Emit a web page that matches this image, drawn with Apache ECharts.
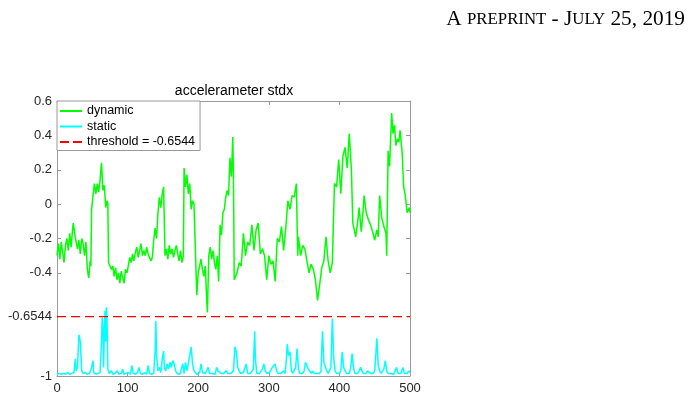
<!DOCTYPE html>
<html>
<head>
<meta charset="utf-8">
<script src="https://cdn.jsdelivr.net/npm/echarts@6/dist/echarts.min.js"></script>
<style>html,body{margin:0;padding:0;background:#fff}#c{width:696px;height:400px}</style>
</head>
<body>
<div id="c"></div>
<script>
const chartTitle = 'accelerameter stdx';
const legendNames = ['dynamic', 'static', 'threshold = -0.6544'];
const threshold = -0.6544;
const xTicks = [0, 100, 200, 300, 400, 500];
const yTicks = [-1, -0.6544, -0.4, -0.2, 0, 0.2, 0.4, 0.6];

const dynX = [0,2,4,6,8,10,12,14,16,18,20,22,23,25,27,29,31,33,35,37,39,41,43,45,47,48,49,51,53,55,57,59,61,63,65,67,69,71,72,73,75,77,79,81,83,85,87,89,91,93,95,97,99,101,103,105,107,109,111,113,115,117,119,121,123,125,127,129,131,133,135,137,139,141,143,145,147,149,151,153,155,157,159,161,163,165,167,169,171,173,175,177,179,180,182,184,186,188,190,192,194,196,198,200,202,204,206,208,210,212,213,215,217,219,221,223,225,227,229,231,233,235,237,239,241,243,245,247,249,250,251,253,255,258,261,264,267,270,273,276,279,282,285,288,291,294,297,300,303,306,309,312,315,318,321,324,327,330,333,336,339,341,342,345,348,351,354,357,360,363,366,369,372,375,378,381,384,387,390,393,396,399,402,405,408,411,414,417,419,420,423,426,428,431,433,435,438,441,444,447,450,453,455,457,460,463,466,467,469,471,474,476,478,480,482,484,486,489,491,493,496,499,500];
const dynY = [-0.30,-0.23,-0.32,-0.22,-0.28,-0.34,-0.24,-0.20,-0.27,-0.17,-0.25,-0.15,-0.11,-0.17,-0.22,-0.26,-0.21,-0.29,-0.20,-0.23,-0.30,-0.22,-0.38,-0.43,-0.33,-0.36,-0.03,0.05,0.12,0.06,0.12,0.07,0.14,0.24,0.08,0.11,-0.02,0.02,0.00,-0.34,-0.35,-0.38,-0.36,-0.42,-0.37,-0.44,-0.40,-0.46,-0.39,-0.43,-0.46,-0.38,-0.40,-0.36,-0.31,-0.34,-0.29,-0.33,-0.28,-0.25,-0.31,-0.27,-0.23,-0.30,-0.27,-0.30,-0.25,-0.29,-0.28,-0.33,-0.31,-0.21,-0.14,-0.20,-0.05,0.04,-0.02,0.06,0.10,-0.30,-0.26,-0.32,-0.24,-0.29,-0.26,-0.31,-0.27,-0.24,-0.29,-0.33,-0.27,-0.34,-0.30,0.21,0.10,0.17,0.06,0.12,-0.03,0.02,0.00,0.01,-0.53,-0.40,-0.36,-0.32,-0.38,-0.42,-0.36,-0.55,-0.63,-0.30,-0.25,-0.32,-0.27,-0.34,-0.38,-0.30,-0.45,-0.12,-0.18,-0.05,-0.03,0.04,0.08,0.05,0.27,0.16,0.39,0.13,-0.44,-0.45,-0.40,-0.34,-0.36,-0.17,-0.30,-0.22,-0.24,-0.12,-0.27,-0.15,-0.11,-0.29,-0.26,-0.30,-0.44,-0.30,-0.35,-0.33,-0.45,-0.20,-0.22,-0.13,-0.27,-0.14,0.02,-0.03,0.05,0.04,0.12,-0.30,-0.19,-0.30,-0.24,-0.26,-0.33,-0.40,-0.35,-0.38,-0.44,-0.56,-0.47,-0.37,-0.33,-0.19,-0.33,-0.40,-0.34,0.12,0.10,0.26,0.06,0.28,0.33,0.21,0.41,0.20,-0.11,-0.13,-0.19,-0.10,-0.02,-0.16,-0.07,0.05,-0.05,-0.09,-0.12,-0.16,-0.21,-0.15,-0.19,0.05,-0.08,-0.13,-0.17,-0.30,0.31,0.22,0.53,0.41,0.46,0.34,0.38,0.36,0.43,0.29,0.10,0.06,-0.05,-0.02,-0.05];

const staX = [0,3,6,9,12,15,18,21,24,26,27,29,31,33,35,37,40,43,46,49,51,52,55,58,61,63,64,65,66,67,68,69,70,71,72,74,77,79,82,85,88,91,93,95,98,101,104,106,108,111,114,116,118,121,124,127,129,131,134,137,139,140,141,143,145,147,149,151,152,154,156,158,160,162,164,166,168,170,172,174,176,178,180,182,184,186,188,190,192,194,196,198,200,202,204,206,208,210,212,214,216,218,220,222,224,226,228,230,232,234,236,238,240,242,244,246,248,250,252,254,256,258,260,262,264,266,268,270,272,274,276,278,280,281,283,285,287,289,291,293,295,297,299,301,303,305,307,309,311,313,315,317,319,321,323,325,326,328,330,332,334,336,338,340,342,344,346,348,350,352,354,356,358,360,362,364,366,368,370,372,374,376,378,380,382,384,386,388,390,392,394,396,398,400,402,404,406,408,410,412,414,416,418,420,422,424,426,428,430,432,434,436,438,440,442,444,446,448,450,452,453,455,457,459,461,463,465,467,469,471,473,475,477,479,481,483,485,487,489,490,492,494,496,498,500];
const staY = [-0.99,-0.985,-0.99,-0.985,-0.99,-0.98,-0.99,-0.985,-0.98,-0.90,-0.97,-0.95,-0.76,-0.80,-0.97,-0.985,-0.98,-0.99,-0.985,-0.95,-0.91,-0.98,-0.99,-0.985,-0.98,-0.80,-0.66,-0.72,-0.95,-0.75,-0.62,-0.80,-0.60,-0.70,-0.96,-0.985,-0.97,-0.99,-0.985,-0.97,-0.99,-0.985,-0.96,-0.99,-0.985,-0.98,-0.99,-0.94,-0.985,-0.99,-0.98,-0.95,-0.985,-0.99,-0.98,-0.99,-0.94,-0.985,-0.99,-0.985,-0.85,-0.68,-0.88,-0.97,-0.95,-0.98,-0.90,-0.855,-0.95,-0.97,-0.93,-0.96,-0.92,-0.95,-0.91,-0.93,-0.97,-0.985,-0.98,-0.99,-0.985,-0.93,-0.985,-0.92,-0.97,-0.96,-0.88,-0.83,-0.93,-0.97,-0.98,-0.99,-0.985,-0.98,-0.93,-0.98,-0.99,-0.985,-0.97,-0.95,-0.985,-0.99,-0.985,-0.98,-0.99,-0.95,-0.97,-0.96,-0.985,-0.99,-0.985,-0.98,-0.97,-0.985,-0.99,-0.985,-0.98,-0.97,-0.83,-0.86,-0.95,-0.97,-0.985,-0.99,-0.98,-0.985,-0.93,-0.985,-0.99,-0.985,-0.98,-0.96,-0.74,-0.90,-0.985,-0.99,-0.985,-0.98,-0.96,-0.93,-0.97,-0.985,-0.99,-0.98,-0.97,-0.95,-0.96,-0.93,-0.97,-0.985,-0.99,-0.985,-0.98,-0.97,-0.985,-0.90,-0.815,-0.88,-0.86,-0.97,-0.985,-0.99,-0.95,-0.84,-0.96,-0.985,-0.99,-0.985,-0.97,-0.92,-0.93,-0.96,-0.95,-0.985,-0.97,-0.985,-0.98,-0.985,-0.99,-0.985,-0.97,-0.74,-0.92,-0.93,-0.97,-0.985,-0.99,-0.95,-0.665,-0.90,-0.97,-0.985,-0.99,-0.985,-0.97,-0.86,-0.95,-0.97,-0.985,-0.99,-0.985,-0.95,-0.87,-0.95,-0.985,-0.99,-0.985,-0.97,-0.95,-0.97,-0.985,-0.99,-0.985,-0.97,-0.96,-0.985,-0.99,-0.985,-0.97,-0.85,-0.78,-0.94,-0.97,-0.985,-0.99,-0.96,-0.91,-0.97,-0.985,-0.99,-0.985,-0.98,-0.99,-0.97,-0.95,-0.985,-0.99,-0.985,-0.98,-0.95,-0.985,-0.99,-0.985,-0.97,-0.98];

const zip = (xs, ys) => xs.map((x, i) => [x, ys[i]]);
const axisGray = '#999999';
const labelColor = '#262626';
const fontFam = '"Liberation Sans", Arial, Helvetica, sans-serif';
const serifFam = '"Liberation Serif", "Times New Roman", serif';

const chart = echarts.init(document.getElementById('c'), null, {renderer: 'canvas'});
chart.setOption({
  animation: false,
  backgroundColor: '#fff',
  title: [{
    text: '{b|A }{s|PREPRINT}{b| - J}{s|ULY}{b| 25, 2019}',
    right: 6, top: 4,
    textStyle: {
      fontWeight: 'normal',
      rich: {
        b: {fontFamily: serifFam, fontSize: 21.3, fontWeight: 'normal', color: '#000'},
        s: {fontFamily: serifFam, fontSize: 16.8, fontWeight: 'normal', color: '#000'}
      }
    }
  }],
  graphic: [{
    type: 'text', x: 234, y: 91,
    style: {text: chartTitle, fill: '#000', font: '14px ' + fontFam, textAlign: 'center', textVerticalAlign: 'middle'}
  }],
  grid: {left: 57, top: 101, width: 353, height: 275, containLabel: false},
  legend: {
    data: [
      {name: legendNames[0], icon: 'rect'},
      {name: legendNames[1], icon: 'rect'},
      {name: legendNames[2], icon: 'path://M0,0h9v2h-9zM13,0h9v2h-9z'}
    ],
    orient: 'vertical', left: 57, top: 101,
    backgroundColor: '#fff', borderColor: axisGray, borderWidth: 1, borderRadius: 0,
    padding: [2.5, 5, 1, 3], itemWidth: 22, itemHeight: 2, itemGap: 0.5,
    textStyle: {fontSize: 12.5, lineHeight: 15, color: '#000', fontFamily: fontFam}
  },
  xAxis: [{
    type: 'value', min: xTicks[0], max: xTicks[xTicks.length - 1], interval: 100,
    axisLine: {show: true, onZero: false, lineStyle: {color: axisGray}},
    axisTick: {show: true, inside: true, length: 4, lineStyle: {color: axisGray}},
    axisLabel: {color: labelColor, fontSize: 13, margin: 6, fontFamily: fontFam},
    splitLine: {show: false}
  }, {
    type: 'value', position: 'top', min: xTicks[0], max: xTicks[xTicks.length - 1], interval: 100,
    axisLine: {show: true, onZero: false, lineStyle: {color: axisGray}},
    axisTick: {show: true, inside: true, length: 4, lineStyle: {color: axisGray}},
    axisLabel: {show: false}, splitLine: {show: false}
  }],
  yAxis: [{
    type: 'value', min: -1, max: 0.6,
    axisLine: {show: true, onZero: false, lineStyle: {color: axisGray}},
    axisTick: {show: true, inside: true, length: 4, customValues: yTicks, lineStyle: {color: axisGray}},
    axisLabel: {color: labelColor, fontSize: 13, margin: 5, fontFamily: fontFam, customValues: yTicks},
    splitLine: {show: false}
  }, {
    type: 'value', position: 'right', min: -1, max: 0.6,
    axisLine: {show: true, onZero: false, lineStyle: {color: axisGray}},
    axisTick: {show: true, inside: true, length: 4, customValues: yTicks, lineStyle: {color: axisGray}},
    axisLabel: {show: false}, splitLine: {show: false}
  }],
  series: [{
    name: legendNames[0], type: 'line', data: zip(dynX, dynY), symbol: 'none',
    lineStyle: {color: '#00ff00', width: 1.5}, itemStyle: {color: '#00ff00'}, z: 3
  }, {
    name: legendNames[1], type: 'line', data: zip(staX, staY), symbol: 'none',
    lineStyle: {color: '#00ffff', width: 1.5}, itemStyle: {color: '#00ffff'}, z: 3
  }, {
    name: legendNames[2], type: 'line', data: [[xTicks[0], threshold], [xTicks[xTicks.length - 1], threshold]], symbol: 'none',
    lineStyle: {color: '#ff0000', width: 1.3, type: [9, 5]}, itemStyle: {color: '#ff0000'}, z: 3
  }]
});
</script>
</body>
</html>
